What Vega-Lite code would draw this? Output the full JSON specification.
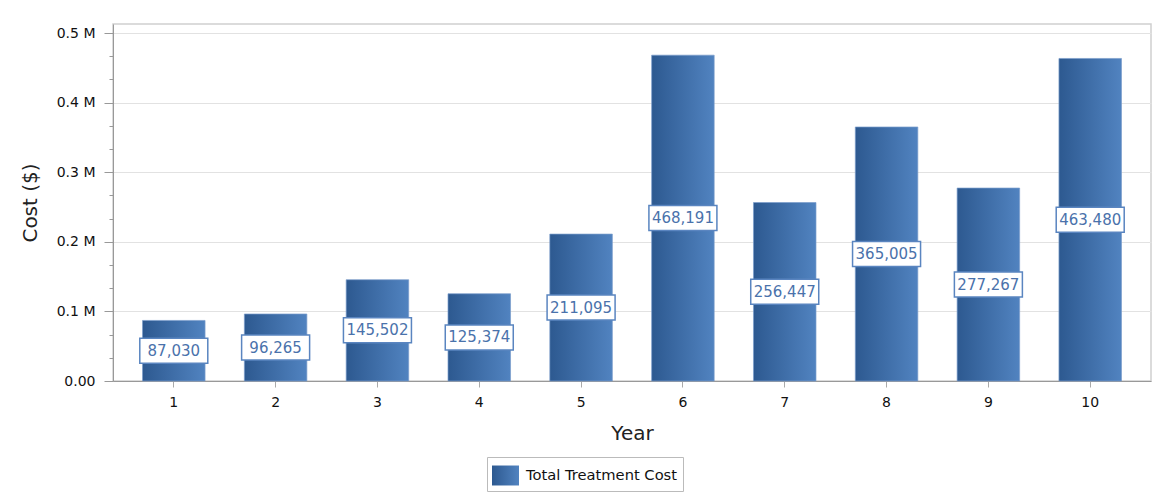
{
  "$schema": "https://vega.github.io/schema/vega-lite/v6.json",
  "width": 1038,
  "height": 357,
  "autosize": {"type": "none"},
  "padding": {"left": 113, "top": 24, "right": 11, "bottom": 116},
  "background": "white",
  "config": {
    "font": "DejaVu Sans",
    "view": {"stroke": "#d0d0d0", "strokeWidth": 1.5}
  },
  "data": {
    "values": [
      {"year": 1, "cost": 87030},
      {"year": 2, "cost": 96265},
      {"year": 3, "cost": 145502},
      {"year": 4, "cost": 125374},
      {"year": 5, "cost": 211095},
      {"year": 6, "cost": 468191},
      {"year": 7, "cost": 256447},
      {"year": 8, "cost": 365005},
      {"year": 9, "cost": 277267},
      {"year": 10, "cost": 463480}
    ]
  },
  "encoding": {
    "x": {
      "field": "year",
      "type": "ordinal",
      "scale": {"paddingInner": 0.386, "paddingOuter": 0.29},
      "axis": {
        "title": "Year",
        "titleFontSize": 20,
        "titleFontWeight": "normal",
        "titleColor": "#222",
        "titlePadding": 14,
        "labelAngle": 0,
        "labelFontSize": 14,
        "labelColor": "#111",
        "labelPadding": 8,
        "tickSize": 6,
        "tickColor": "#aaa",
        "domainColor": "#999",
        "grid": false
      }
    }
  },
  "layer": [
    {
      "mark": {
        "type": "bar",
        "fill": {"gradient": "linear", "x1": 0, "y1": 0, "x2": 1, "y2": 0,
                 "stops": [{"offset": 0, "color": "#2d5990"}, {"offset": 1, "color": "#5183c0"}]},
        "stroke": "#7a9ccb",
        "strokeWidth": 0.7
      },
      "encoding": {
        "y": {
          "field": "cost",
          "type": "quantitative",
          "scale": {"domain": [0, 513000], "nice": false},
          "axis": {
            "values": [0, 33333.33, 66666.67, 100000, 133333.33, 166666.67, 200000, 233333.33, 266666.67, 300000, 333333.33, 366666.67, 400000, 433333.33, 466666.67, 500000],
            "labelExpr": "datum.value % 100000 == 0 ? (datum.value == 0 ? '0.00' : format(datum.value / 1000000, '.1f') + ' M') : ''",
            "tickSize": {"condition": {"test": "datum.value % 100000 == 0", "value": 9}, "value": 4},
            "gridOpacity": {"condition": {"test": "datum.value % 100000 == 0", "value": 1}, "value": 0},
            "gridColor": "#e2e2e2",
            "tickColor": "#999",
            "domainColor": "#999",
            "labelPadding": 9,
            "labelFontSize": 14,
            "labelColor": "#111",
            "labelOverlap": false,
            "title": "Cost ($)",
            "titleFontSize": 20,
            "titleFontWeight": "normal",
            "titleColor": "#222",
            "titlePadding": 16
          }
        },
        "opacity": {
          "datum": "Total Treatment Cost",
          "type": "nominal",
          "scale": {"range": [1]},
          "legend": {
            "title": null,
            "orient": "none",
            "legendX": 374,
            "legendY": 433,
            "direction": "horizontal",
            "strokeColor": "#bbb",
            "fillColor": "white",
            "padding": 5,
            "labelFontSize": 14.7,
            "labelColor": "#111",
            "labelOffset": 7,
            "symbolType": "M-1,-0.74L1,-0.74L1,0.74L-1,0.74Z",
            "symbolSize": 729,
            "symbolStrokeWidth": 0,
            "symbolFillColor": "#3e6ca6",
            "symbolOpacity": 1,
            "encode": {
              "symbols": {
                "update": {
                  "fill": {"value": {"gradient": "linear", "x1": 0, "y1": 0, "x2": 1, "y2": 0,
                                     "stops": [{"offset": 0, "color": "#2d5990"}, {"offset": 1, "color": "#5183c0"}]}}
                }
              }
            }
          }
        }
      }
    },
    {
      "layer": [
        {
          "mark": {"type": "bar", "width": 68, "yOffset": -12.5, "y2Offset": 12.5, "fill": "white", "stroke": "#5a85c0", "strokeWidth": 1.5},
          "encoding": {
            "y": {"field": "cost", "type": "quantitative", "scale": {"domain": [0, 1026000], "nice": false}, "axis": null},
            "y2": {"field": "cost"}
          }
        },
        {
          "mark": {"type": "text", "font": "DejaVu Sans", "fontSize": 15, "color": "#4a72ab", "baseline": "middle"},
          "encoding": {
            "y": {"field": "cost", "type": "quantitative", "scale": {"domain": [0, 1026000], "nice": false}, "axis": null},
            "text": {"field": "cost", "type": "quantitative", "format": ","}
          }
        }
      ]
    }
  ],
  "resolve": {"scale": {"y": "independent"}}
}
